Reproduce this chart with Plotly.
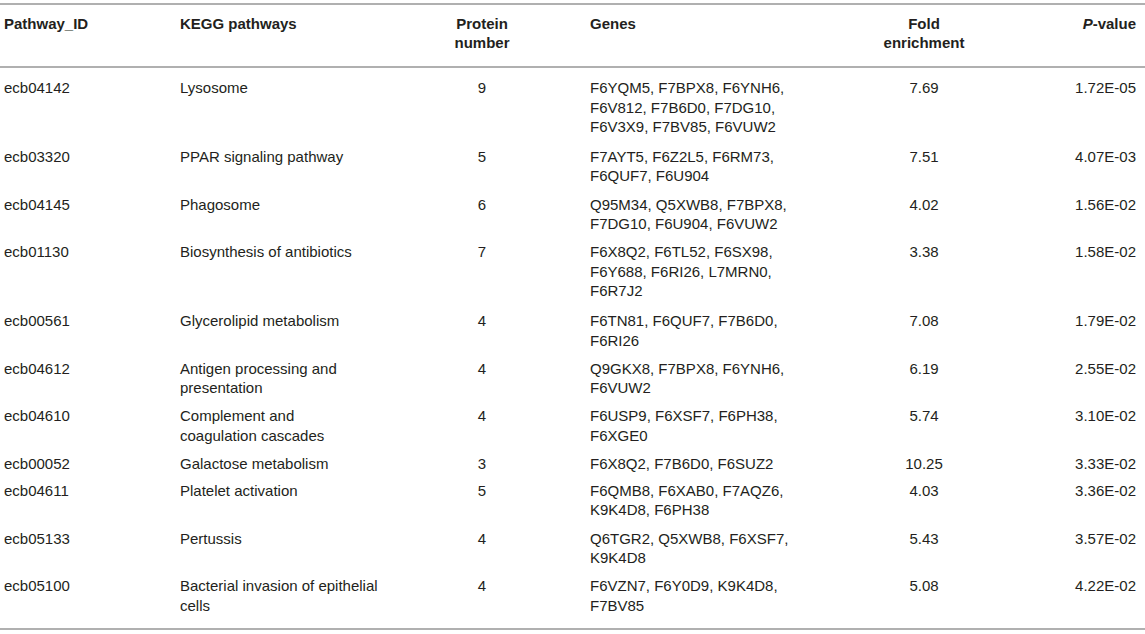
import plotly.graph_objects as go

# table content
pathway_ids = ['ecb04142', 'ecb03320', 'ecb04145', 'ecb01130', 'ecb00561', 'ecb04612',
               'ecb04610', 'ecb00052', 'ecb04611', 'ecb05133', 'ecb05100']
pathways = ['Lysosome', 'PPAR signaling pathway', 'Phagosome', 'Biosynthesis of antibiotics',
            'Glycerolipid metabolism', 'Antigen processing and|presentation',
            'Complement and|coagulation cascades', 'Galactose metabolism', 'Platelet activation',
            'Pertussis', 'Bacterial invasion of epithelial|cells']
protein_number = [9, 5, 6, 7, 4, 4, 4, 3, 5, 4, 4]
genes = ['F6YQM5, F7BPX8, F6YNH6,|F6V812, F7B6D0, F7DG10,|F6V3X9, F7BV85, F6VUW2',
         'F7AYT5, F6Z2L5, F6RM73,|F6QUF7, F6U904',
         'Q95M34, Q5XWB8, F7BPX8,|F7DG10, F6U904, F6VUW2',
         'F6X8Q2, F6TL52, F6SX98,|F6Y688, F6RI26, L7MRN0,|F6R7J2',
         'F6TN81, F6QUF7, F7B6D0,|F6RI26',
         'Q9GKX8, F7BPX8, F6YNH6,|F6VUW2',
         'F6USP9, F6XSF7, F6PH38,|F6XGE0',
         'F6X8Q2, F7B6D0, F6SUZ2',
         'F6QMB8, F6XAB0, F7AQZ6,|K9K4D8, F6PH38',
         'Q6TGR2, Q5XWB8, F6XSF7,|K9K4D8',
         'F6VZN7, F6Y0D9, K9K4D8,|F7BV85']
fold_enrichment = ['7.69', '7.51', '4.02', '3.38', '7.08', '6.19', '5.74', '10.25', '4.03', '5.43', '5.08']
p_values = ['1.72E-05', '4.07E-03', '1.56E-02', '1.58E-02', '1.79E-02', '2.55E-02',
            '3.10E-02', '3.33E-02', '3.36E-02', '3.57E-02', '4.22E-02']

headers = [['Pathway_ID'], ['KEGG pathways'], ['Protein', 'number'], ['Genes'],
           ['Fold', 'enrichment'], ['<i>P</i>-value']]

W, H = 1145, 634
col_x = [4, 180, 482, 590, 924, 1136]
col_pos = ['middle right', 'middle right', 'middle center', 'middle right', 'middle center', 'middle left']
line_h = 19.5      # spacing of lines inside a cell
row_line = 21      # row height per line
row_pad = 5.7
first_y = 89.5
font = dict(family='Liberation Sans, Arial, sans-serif', size=15, color='#231f20')

# work out the y of each text line
cols = [[] for _ in range(6)]
y = first_y
for i in range(len(pathway_ids)):
    cells = [[pathway_ids[i]], pathways[i].split('|'), [str(protein_number[i])],
             genes[i].split('|'), [fold_enrichment[i]], [p_values[i]]]
    n = max(len(c) for c in cells)
    for c, cell in enumerate(cells):
        for k, t in enumerate(cell):
            cols[c].append((y + k * line_h, t))
    y += n * row_line + row_pad

fig = go.Figure()
for c in range(6):
    fig.add_trace(go.Scatter(
        x=[col_x[c]] * len(cols[c]), y=[p[0] for p in cols[c]], text=[p[1] for p in cols[c]],
        mode='text', textposition=col_pos[c], textfont=font, hoverinfo='skip', showlegend=False))
    hy = [25 + k * line_h for k in range(len(headers[c]))]
    fig.add_trace(go.Scatter(
        x=[col_x[c]] * len(hy), y=hy, text=['<b>' + t + '</b>' for t in headers[c]],
        mode='text', textposition=col_pos[c], textfont=font, hoverinfo='skip', showlegend=False))

# horizontal rules
for ry in [4, 67, 629]:
    fig.add_shape(type='line', x0=0, x1=W, y0=ry, y1=ry, xref='x', yref='y',
                  line=dict(color='#b0b0b0', width=2))

fig.update_layout(
    width=W, height=H, margin=dict(l=0, r=0, t=0, b=0),
    paper_bgcolor='white', plot_bgcolor='white',
    xaxis=dict(range=[0, W], visible=False, fixedrange=True),
    yaxis=dict(range=[H, 0], visible=False, fixedrange=True),
)

# page body has a default 8px margin, drop it so the figure sits at 0,0
fig.write_html("out.html", config={'displayModeBar': False},
               post_script="document.body.style.margin='0';")
